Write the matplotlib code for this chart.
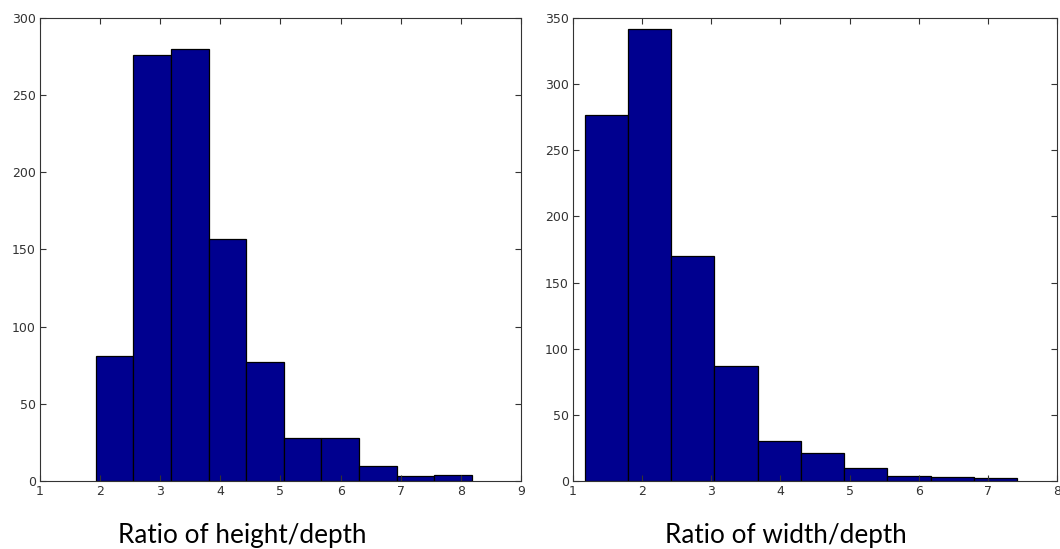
import numpy as np
import matplotlib
matplotlib.use("Agg")
import matplotlib.pyplot as plt

# histogram counts (10 bins each, like MATLAB hist)
height_range = (1.93, 8.18)
height_counts = [81, 276, 280, 157, 77, 28, 28, 10, 3, 4]

width_range = (1.17, 7.42)
width_counts = [277, 342, 170, 87, 30, 21, 10, 4, 3, 2]

xlabels = ["Ratio of height/depth", "Ratio of width/depth"]

bar_color = "#00008f"

fig = plt.figure(figsize=(10.6, 5.49), dpi=100)
ax1 = fig.add_axes([0.0377, 0.1239, 0.4538, 0.8434])
ax2 = fig.add_axes([0.5406, 0.1239, 0.4566, 0.8434])


def draw_hist(ax, rng, counts, xlim, ylim, yticks):
    edges = np.linspace(rng[0], rng[1], len(counts) + 1)
    ax.bar(edges[:-1], counts, width=np.diff(edges), align="edge",
           color=bar_color, edgecolor="black", linewidth=0.9)
    ax.set_xlim(*xlim)
    ax.set_ylim(*ylim)
    ax.set_xticks(np.arange(xlim[0], xlim[1] + 1))
    ax.set_yticks(yticks)
    ax.tick_params(direction="in", top=True, right=True, length=4,
                   width=0.8, labelsize=9, labelcolor="#333333", pad=3,
                   color="#333333")
    for sp in ax.spines.values():
        sp.set_linewidth(0.8)
        sp.set_color("#333333")


draw_hist(ax1, height_range, height_counts, (1, 9), (0, 300), np.arange(0, 301, 50))
draw_hist(ax2, width_range, width_counts, (1, 8), (0, 350), np.arange(0, 351, 50))

for lab, xc in zip(xlabels, [0.229, 0.741]):
    fig.text(xc, 0.011, lab, ha="center", va="baseline", fontsize=18.8,
             family="Lato", color="black")

fig.savefig("out.png", dpi=100)
